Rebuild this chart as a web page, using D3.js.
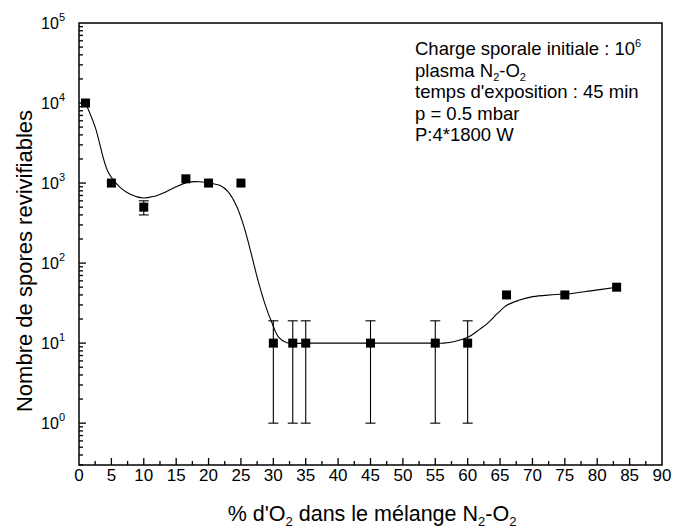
<!DOCTYPE html>
<html>
<head>
<meta charset="utf-8">
<script src="https://cdn.jsdelivr.net/npm/d3@7"></script>
<style>
  body { margin: 0; background: #fff; }
  svg { font-family: "Liberation Sans", Arial, Helvetica, sans-serif; }
</style>
</head>
<body>
<div id="chart"></div>
<script>
"use strict";

// measured points (% O2, spore count)
const o2 = [1, 5, 10, 16.5, 20, 25, 30, 33, 35, 45, 55, 60, 66, 75, 83];
const spores = [10000, 1000, 500, 1130, 1000, 1000, 10, 10, 10, 10, 10, 10, 40, 40, 50];
// error bars (null when none drawn)
const errLow = [null, null, 400, null, null, null, 1, 1, 1, 1, 1, 1, null, null, null];
const errHigh = [null, null, 600, null, null, null, 19, 19, 19, 19, 19, 19, null, null, null];

// smooth fitted curve
const fitX = [1, 2.5, 4.5, 6.3, 8, 9.9, 11.5, 13.3, 15, 16.7, 18.5, 20, 21.8, 23,
  24.3, 25.5, 26.6, 27.6, 28.7, 29.8, 30.8, 32.1, 35, 45, 55, 56.3, 58, 60.1, 61.5, 63.1, 64.6,
  66.1, 68, 69.7, 72, 74.3, 75.4, 79, 83];
const fitY = [10000, 5000, 1370, 890, 720, 650, 680, 770, 900, 1020, 1040, 1000, 930, 780,
  520, 280, 130, 62, 31, 17.8, 11.9, 10.1, 10, 10, 10, 10, 10.5, 11.9, 14.2, 17.8, 23.5,
  29.9, 34.5, 37.6, 39.5, 40.8, 41.2, 45, 50];

const xTicks = d3.range(0, 91, 5);
const xMinor = d3.range(2.5, 90, 5);
const yMajor = [0, 1, 2, 3, 4, 5];

const annotLines = [
  [["Charge sporale initiale : 10", ""], ["6", "sup"]],
  [["plasma N", ""], ["2", "sub"], ["-O", ""], ["2", "sub"]],
  [["temps d'exposition : 45 min", ""]],
  [["p = 0.5 mbar", ""]],
  [["P:4*1800 W", ""]],
];

const W = 675, H = 530;
const margin = { left: 79, right: 13, top: 23, bottom: 65 };

function draw() {
  const svg = d3.select("#chart").append("svg")
    .attr("width", W).attr("height", H);

  const x = d3.scaleLinear().domain([0, 90]).range([margin.left, W - margin.right]);
  const y = d3.scaleLog().domain([0.3, 1e5]).range([H - margin.bottom, margin.top]);

  const x0 = margin.left, x1 = W - margin.right;
  const y0 = H - margin.bottom, y1 = margin.top;

  // x axis ticks (inward)
  const g = svg.append("g").attr("stroke", "#000").attr("stroke-width", 1.3);
  g.selectAll(".xt").data(xTicks.filter((d) => d > 0 && d < 90)).enter().append("line")
    .attr("x1", (d) => x(d)).attr("x2", (d) => x(d))
    .attr("y1", y0).attr("y2", y0 - 7);
  g.selectAll(".xm").data(xMinor).enter().append("line")
    .attr("x1", (d) => x(d)).attr("x2", (d) => x(d))
    .attr("y1", y0).attr("y2", y0 - 4);

  // y axis ticks (log, inward)
  const yMinor = [];
  for (let e = -1; e < 5; e++) {
    for (let m = 2; m <= 9; m++) {
      const v = m * Math.pow(10, e);
      if (v >= 0.3 && v <= 1e5) yMinor.push(v);
    }
  }
  g.selectAll(".ym").data(yMinor).enter().append("line")
    .attr("x1", x0).attr("x2", x0 + 4)
    .attr("y1", (d) => y(d)).attr("y2", (d) => y(d));
  g.selectAll(".yt").data(yMajor.filter((e) => e < 5)).enter().append("line")
    .attr("x1", x0).attr("x2", x0 + 7)
    .attr("y1", (e) => y(Math.pow(10, e))).attr("y2", (e) => y(Math.pow(10, e)));

  // frame
  svg.append("rect")
    .attr("x", x0).attr("y", y1)
    .attr("width", x1 - x0).attr("height", y0 - y1)
    .attr("fill", "none").attr("stroke", "#000").attr("stroke-width", 1.5);

  // x tick labels
  svg.selectAll(".xl").data(xTicks).enter().append("text")
    .attr("x", (d) => x(d)).attr("y", y0 + 16)
    .attr("text-anchor", "middle").attr("font-size", 17)
    .text((d) => d);

  // y tick labels with superscripts
  const yl = svg.selectAll(".yl").data(yMajor).enter().append("text")
    .attr("x", x0 - 14).attr("y", (e) => y(Math.pow(10, e)) + 6)
    .attr("text-anchor", "end").attr("font-size", 16);
  yl.append("tspan").text("10");
  yl.append("tspan").attr("dy", -8).attr("font-size", 11).text((e) => e);

  // axis titles
  svg.append("text")
    .attr("transform", `translate(32,${(y0 + y1) / 2 + 17}) rotate(-90)`)
    .attr("text-anchor", "middle").attr("font-size", 22)
    .text("Nombre de spores revivifiables");

  const xt = svg.append("text")
    .attr("x", 372).attr("y", 521)
    .attr("text-anchor", "middle").attr("font-size", 21.5);
  xt.append("tspan").text("% d'O");
  xt.append("tspan").attr("dy", 5).attr("font-size", 13).text("2");
  xt.append("tspan").attr("dy", -5).text(" dans le mélange N");
  xt.append("tspan").attr("dy", 5).attr("font-size", 13).text("2");
  xt.append("tspan").attr("dy", -5).text("-O");
  xt.append("tspan").attr("dy", 5).attr("font-size", 13).text("2");

  // fitted curve
  const line = d3.line()
    .x((d) => x(d[0])).y((d) => y(d[1]))
    .curve(d3.curveCatmullRom.alpha(0.5));
  svg.append("path")
    .datum(fitX.map((v, i) => [v, fitY[i]]))
    .attr("d", line)
    .attr("fill", "none").attr("stroke", "#000").attr("stroke-width", 1.1);

  // error bars
  const pts = o2.map((v, i) => ({ x: v, y: spores[i], lo: errLow[i], hi: errHigh[i] }));
  const eb = svg.append("g").attr("stroke", "#000").attr("stroke-width", 1.1);
  const withErr = pts.filter((d) => d.lo !== null);
  eb.selectAll(".ev").data(withErr).enter().append("line")
    .attr("x1", (d) => x(d.x)).attr("x2", (d) => x(d.x))
    .attr("y1", (d) => y(d.lo)).attr("y2", (d) => y(d.hi));
  eb.selectAll(".el").data(withErr).enter().append("line")
    .attr("x1", (d) => x(d.x) - 5).attr("x2", (d) => x(d.x) + 5)
    .attr("y1", (d) => y(d.lo)).attr("y2", (d) => y(d.lo));
  eb.selectAll(".eh").data(withErr).enter().append("line")
    .attr("x1", (d) => x(d.x) - 5).attr("x2", (d) => x(d.x) + 5)
    .attr("y1", (d) => y(d.hi)).attr("y2", (d) => y(d.hi));

  // square markers
  const s = 9;
  svg.selectAll(".pt").data(pts).enter().append("rect")
    .attr("x", (d) => x(d.x) - s / 2).attr("y", (d) => y(d.y) - s / 2)
    .attr("width", s).attr("height", s).attr("fill", "#000");

  // annotation block
  const ann = svg.append("g").attr("font-size", 18.5);
  annotLines.forEach((parts, i) => {
    const t = ann.append("text").attr("x", 415).attr("y", 55 + i * 21.5);
    let shift = 0;
    parts.forEach((p) => {
      const sp = t.append("tspan").text(p[0]);
      let target = 0;
      if (p[1] === "sup") {
        target = -8;
        sp.attr("font-size", 11);
      }
      if (p[1] === "sub") {
        target = 4;
        sp.attr("font-size", 11);
      }
      sp.attr("dy", target - shift);
      shift = target;
    });
  });
}

draw();
</script>
</body>
</html>
